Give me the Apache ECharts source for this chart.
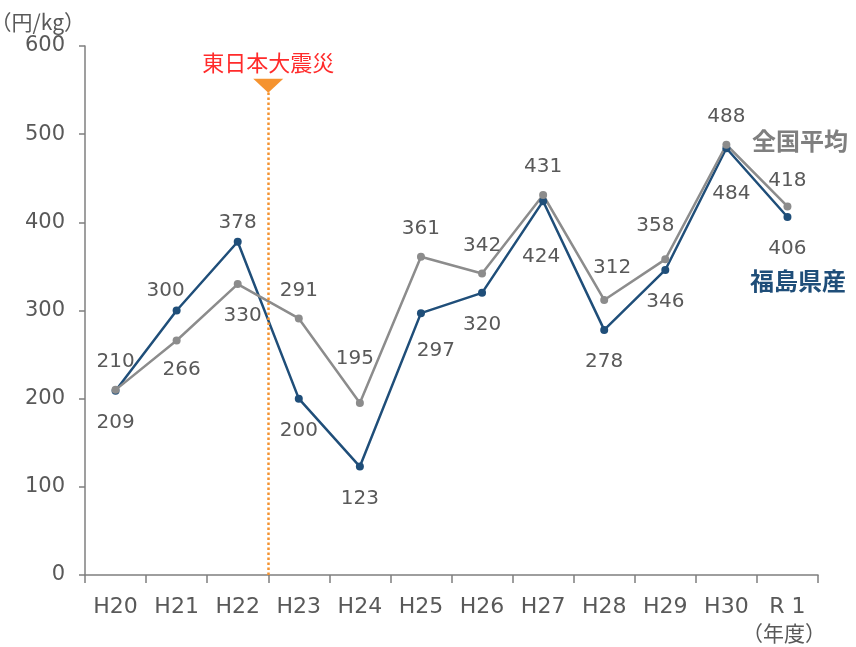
<!DOCTYPE html>
<html>
<head>
<meta charset="utf-8">
<script src="https://cdn.jsdelivr.net/npm/echarts@6/dist/echarts.min.js"></script>
<style>
html,body{margin:0;padding:0;background:#fff;}
#chart{width:856px;height:647px;}
</style>
</head>
<body>
<div id="chart"></div>
<script>
// 年度
var years = ['H20','H21','H22','H23','H24','H25','H26','H27','H28','H29','H30','R 1'];
// 福島県産 (円/kg)
var fukushima = [209, 300, 378, 200, 123, 297, 320, 424, 278, 346, 484, 406];
// 全国平均 (円/kg)
var zenkoku = [210, 266, 330, 291, 195, 361, 342, 431, 312, 358, 488, 418];
var yTicks = [0, 100, 200, 300, 400, 500, 600];
// 震災の位置 (H22とH23の境目)
var quakeAt = 3;
var quakeTop = 555;

// ラベルの微調整 [dx, dy]（重なり回避）
var nudgeFukushima = {1: [-11, 8], 2: [0, 9], 5: [15, 6], 7: [-2, 24], 10: [5, 14]};
var nudgeZenkoku = {1: [5, -3], 2: [5, 0], 4: [-5, -16], 8: [8, -4], 9: [-10, -6], 11: [0, 2]};

var font = "'DejaVu Sans', 'Noto Sans CJK JP', sans-serif";
var cjk = "'Noto Sans CJK JP', sans-serif";
var blue = '#1f4e79';
var gray = '#8c8c8c';
var txt = '#595959';

// 値が大きい方のラベルを上、小さい方を下
function makeData(vals, other, nudge){
	return vals.map(function(v, i){
		var top = v >= other[i];
		return {
			value: v,
			label: {
				position: top ? 'top' : 'bottom',
				distance: top ? 14 : 18,
				offset: nudge[i] || [0, 0]
			}
		};
	});
}

var myChart = echarts.init(document.getElementById('chart'));
var option = {
	animation: false,
	backgroundColor: '#fff',
	grid: {left: 85, right: 38, top: 46, bottom: 72, outerBoundsMode: 'none', containLabel: false},
	xAxis: [{
		type: 'category',
		data: years,
		boundaryGap: true,
		axisLine: {lineStyle: {color: '#7f7f7f', width: 1.5}},
		axisTick: {show: true, length: 8, lineStyle: {color: '#7f7f7f', width: 1.5}},
		axisLabel: {color: txt, fontSize: 22, fontFamily: font, margin: 21}
	}, {
		type: 'value',
		min: 0,
		max: years.length,
		show: false
	}],
	yAxis: {
		type: 'value',
		min: yTicks[0],
		max: yTicks[yTicks.length - 1],
		interval: 100,
		name: '（円/kg）',
		nameLocation: 'end',
		nameGap: 13,
		nameTextStyle: {color: txt, fontSize: 21, fontFamily: cjk, align: 'right', padding: [0, 0, 0, 0]},
		axisLine: {show: true, lineStyle: {color: '#7f7f7f', width: 1.5}},
		axisTick: {show: true, length: 6, lineStyle: {color: '#7f7f7f', width: 1.5}},
		axisLabel: {color: txt, fontSize: 21, fontFamily: font, margin: 20},
		splitLine: {show: false}
	},
	series: [{
		name: '福島県産',
		type: 'line',
		data: makeData(fukushima, zenkoku, nudgeFukushima),
		symbol: 'circle',
		symbolSize: 8,
		itemStyle: {color: blue},
		lineStyle: {color: blue, width: 2.5},
		label: {show: true, color: txt, fontSize: 20, fontFamily: font}
	}, {
		name: '全国平均',
		type: 'line',
		data: makeData(zenkoku, fukushima, nudgeZenkoku),
		symbol: 'circle',
		symbolSize: 8,
		itemStyle: {color: gray},
		lineStyle: {color: gray, width: 2.5},
		label: {show: true, color: txt, fontSize: 20, fontFamily: font}
	}, {
		name: '震災',
		type: 'line',
		xAxisIndex: 1,
		data: [],
		markLine: {
			silent: true,
			symbol: ['none', 'triangle'],
			symbolSize: [30, 14],
			symbolRotate: 180,
			lineStyle: {color: '#f5932f', width: 2.5, type: 'dotted'},
			itemStyle: {color: '#f5932f'},
			label: {show: true, position: 'end', formatter: '東日本大震災', color: '#ff2b2b', fontSize: 22, fontFamily: cjk, distance: 12},
			data: [[{coord: [quakeAt, 0], symbolRotate: 180}, {coord: [quakeAt, quakeTop], symbolRotate: 180}]]
		}
	}],
	graphic: [
		{type: 'text', left: 752, top: 129, style: {text: '全国平均', fill: '#7f7f7f', font: 'bold 24px ' + cjk}},
		{type: 'text', left: 750, top: 269, style: {text: '福島県産', fill: blue, font: 'bold 24px ' + cjk}},
		{type: 'text', left: 742, top: 623, style: {text: '（年度）', fill: txt, font: '21px ' + cjk}}
	]
};
myChart.setOption(option);
</script>
</body>
</html>
